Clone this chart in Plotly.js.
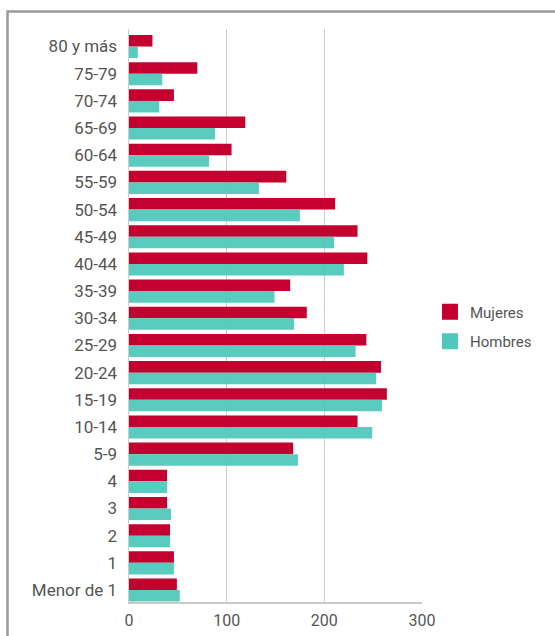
<!DOCTYPE html>
<html>
<head>
<meta charset="utf-8">
<script src="https://cdn.plot.ly/plotly-3.0.1.min.js"></script>
<style>
  html, body { margin: 0; padding: 0; background: #fff; }
  #chart { width: 555px; height: 636px; }
</style>
</head>
<body>
<div id="chart"></div>
<script>
// Age groups, top to bottom as displayed
const categories = ["80 y más", "75-79", "70-74", "65-69", "60-64", "55-59", "50-54", "45-49",
  "40-44", "35-39", "30-34", "25-29", "20-24", "15-19", "10-14", "5-9", "4", "3", "2", "1", "Menor de 1"];
const mujeres = [24, 70, 46, 119, 105, 161, 211, 234, 244, 165, 182, 243, 258, 264, 234, 168, 39, 39, 42, 46, 49];
const hombres = [9, 34, 31, 88, 82, 133, 175, 210, 220, 149, 169, 232, 253, 259, 249, 173, 39, 43, 42, 46, 52];
const xTicks = [0, 100, 200, 300];
const seriesNames = ["Mujeres", "Hombres"];
const seriesColors = ["#C3002F", "#4DC8BA"];

const fontFam = "Roboto, 'Noto Sans', sans-serif";

const traces = [
  {
    type: "bar", orientation: "h", name: seriesNames[0],
    y: categories, x: mujeres,
    marker: { color: seriesColors[0] },
    showlegend: false
  },
  {
    type: "bar", orientation: "h", name: seriesNames[1],
    y: categories, x: hombres,
    marker: { color: seriesColors[1], opacity: 0.93 },
    showlegend: false
  }
];
// legend-only entries (square swatches)
seriesNames.forEach((n, i) => {
  traces.push({
    type: "scatter", mode: "markers", name: n,
    x: [null], y: [null],
    marker: { symbol: "square", size: 16, color: seriesColors[i] },
    legendgroup: "g" + i, showlegend: true
  });
});

const L = 129, R = 422, T = 29, B = 602;
const W = R - L, H = B - T;
const px = v => (v - L) / W;
const py = v => (B - v) / H;

const layout = {
  width: 555, height: 636,
  margin: { l: L, r: 555 - R, t: T, b: 636 - B, pad: 0 },
  paper_bgcolor: "#fff", plot_bgcolor: "#fff",
  barmode: "group",
  bargap: 0.15, bargroupgap: 0,
  font: { family: fontFam, color: "#555" },
  xaxis: {
    range: [0, 300], tickvals: xTicks, ticktext: xTicks.map(String),
    showgrid: true, gridcolor: "#cccccc", gridwidth: 1.5,
    zeroline: false, showline: true, linecolor: "#c8c8c8", linewidth: 2,
    ticks: "", tickfont: { size: 16, color: "#555" }, ticklabelstandoff: 3,
    fixedrange: true
  },
  yaxis: {
    type: "category", categoryorder: "array", categoryarray: categories,
    range: [20.44, -0.645],
    showgrid: false, zeroline: false, showline: true, linecolor: "#cccccc", linewidth: 1.5,
    ticks: "", tickfont: { size: 17, color: "#555" }, ticklabelstandoff: 7,
    fixedrange: true
  },
  showlegend: true,
  legend: {
    x: px(430), xanchor: "left",
    y: py(326.5), yanchor: "middle",
    traceorder: "grouped", tracegroupgap: 7,
    font: { size: 15, color: "#555", family: fontFam },
    bgcolor: "rgba(0,0,0,0)"
  },
  shapes: [
    {
      type: "path", xref: "paper", yref: "paper",
      path: `M ${px(7.5)},${py(640)} L ${px(7.5)},${py(11.5)} L ${px(560)},${py(11.5)}`,
      line: { color: "#9a9a9a", width: 2.5 }
    }
  ]
};

Plotly.newPlot("chart", traces, layout, { displayModeBar: false, staticPlot: true });
</script>
</body>
</html>
